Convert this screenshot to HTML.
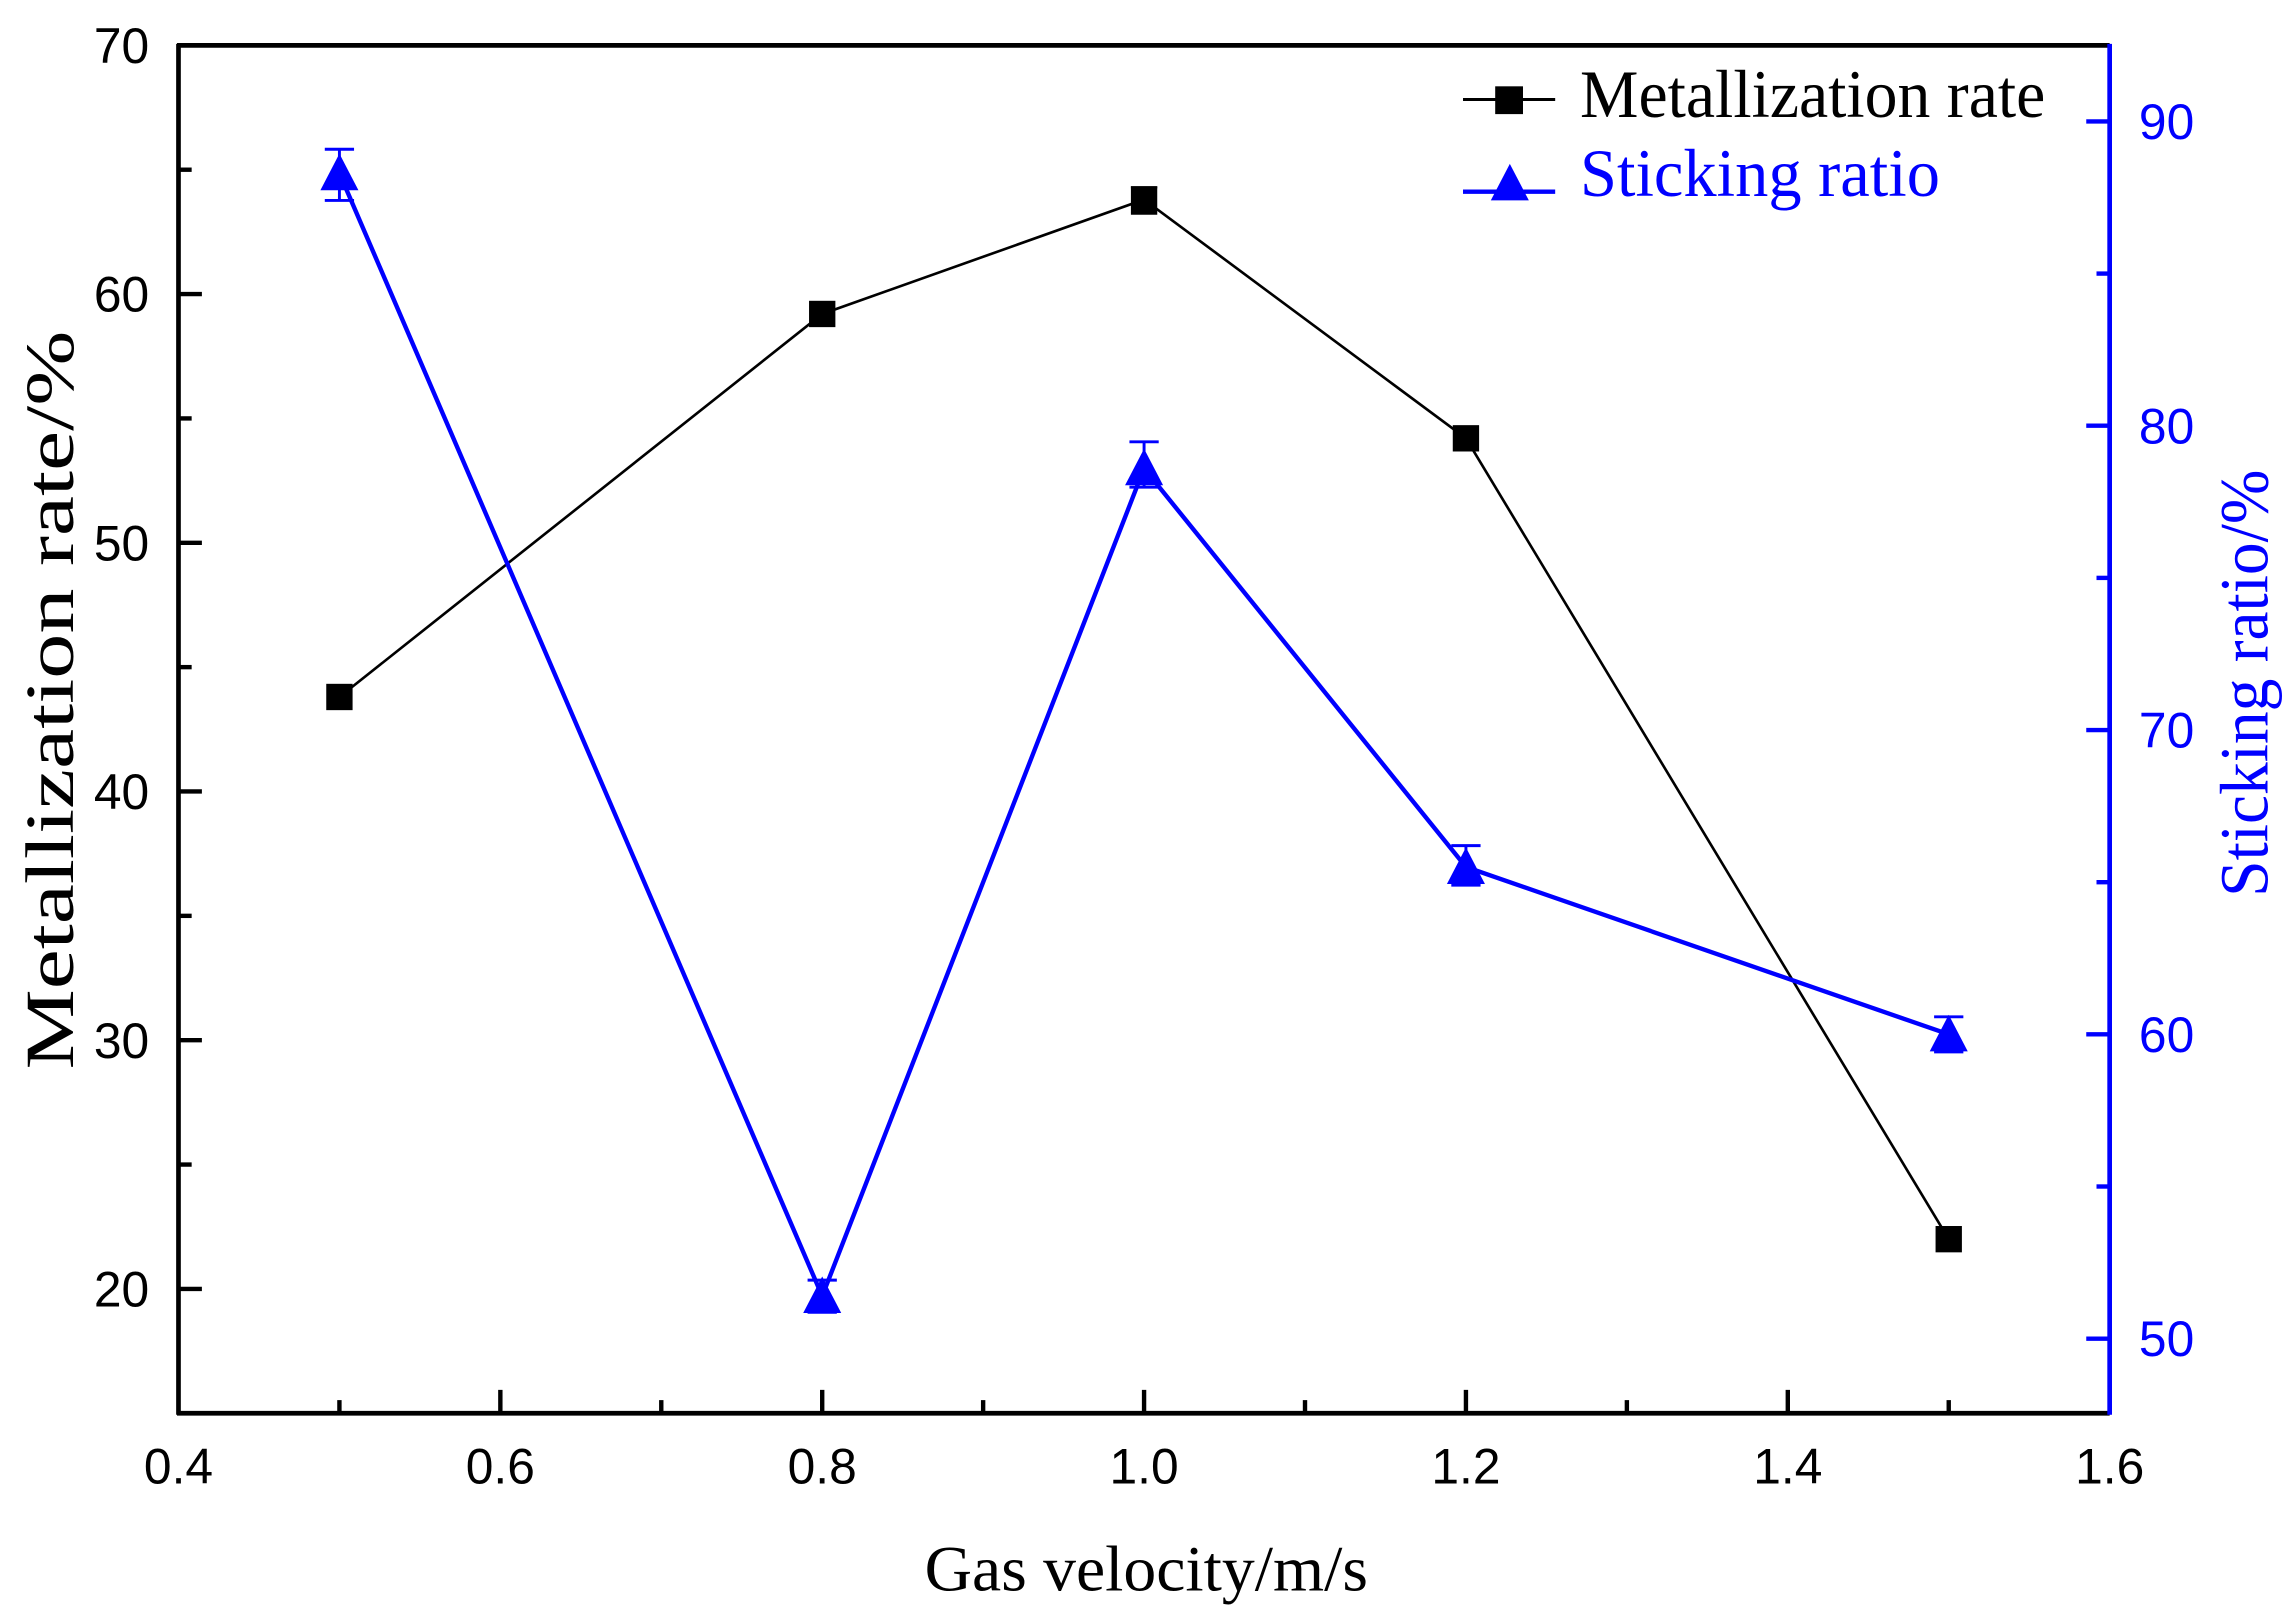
<!DOCTYPE html>
<html><head><meta charset="utf-8"><style>
html,body{margin:0;padding:0;background:#fff;}
svg{display:block;}
.t{font-family:"Liberation Sans",Arial,sans-serif;font-size:34px;}
.s{font-family:"Liberation Serif","Times New Roman",serif;}
</style></head><body>
<svg width="2294" height="1620" viewBox="0 0 1568 1107.3" preserveAspectRatio="none" xmlns="http://www.w3.org/2000/svg">
<rect width="1568" height="1108" fill="#fff"/>
<line x1="121" y1="31" x2="1442" y2="31" stroke="#000" stroke-width="3.2"/>
<line x1="122" y1="30" x2="122" y2="967" stroke="#000" stroke-width="3.2"/>
<line x1="121" y1="966" x2="1442" y2="966" stroke="#000" stroke-width="3.2"/>
<line x1="1442" y1="30" x2="1442" y2="967" stroke="#00f" stroke-width="3.2"/>
<g stroke="#000" stroke-width="3">
<line x1="122" y1="31" x2="138" y2="31"/><line x1="122" y1="116" x2="131" y2="116"/>
<line x1="122" y1="201" x2="138" y2="201"/><line x1="122" y1="286" x2="131" y2="286"/>
<line x1="122" y1="371" x2="138" y2="371"/><line x1="122" y1="456" x2="131" y2="456"/>
<line x1="122" y1="541" x2="138" y2="541"/><line x1="122" y1="626" x2="131" y2="626"/>
<line x1="122" y1="711" x2="138" y2="711"/><line x1="122" y1="796" x2="131" y2="796"/>
<line x1="122" y1="881" x2="138" y2="881"/>
<line x1="232" y1="966" x2="232" y2="957"/><line x1="342" y1="966" x2="342" y2="950"/>
<line x1="452" y1="966" x2="452" y2="957"/><line x1="562" y1="966" x2="562" y2="950"/>
<line x1="672" y1="966" x2="672" y2="957"/><line x1="782" y1="966" x2="782" y2="950"/>
<line x1="892" y1="966" x2="892" y2="957"/><line x1="1002" y1="966" x2="1002" y2="950"/>
<line x1="1112" y1="966" x2="1112" y2="957"/><line x1="1222" y1="966" x2="1222" y2="950"/>
<line x1="1332" y1="966" x2="1332" y2="957"/>
</g>
<g stroke="#00f" stroke-width="3">
<line x1="1442" y1="83" x2="1426" y2="83"/><line x1="1442" y1="187" x2="1433" y2="187"/>
<line x1="1442" y1="291" x2="1426" y2="291"/><line x1="1442" y1="395" x2="1433" y2="395"/>
<line x1="1442" y1="499" x2="1426" y2="499"/><line x1="1442" y1="603" x2="1433" y2="603"/>
<line x1="1442" y1="707" x2="1426" y2="707"/><line x1="1442" y1="811" x2="1433" y2="811"/>
<line x1="1442" y1="915" x2="1426" y2="915"/>
</g>
<g class="t" text-anchor="end" fill="#000">
<text x="102" y="43">70</text><text x="102" y="213">60</text><text x="102" y="383">50</text>
<text x="102" y="553">40</text><text x="102" y="723">30</text><text x="102" y="893">20</text>
</g>
<g class="t" text-anchor="middle" fill="#000">
<text x="122" y="1014">0.4</text><text x="342" y="1014">0.6</text><text x="562" y="1014">0.8</text>
<text x="782" y="1014">1.0</text><text x="1002" y="1014">1.2</text><text x="1222" y="1014">1.4</text>
<text x="1442" y="1014">1.6</text>
</g>
<g class="t" fill="#00f">
<text x="1462" y="95">90</text><text x="1462" y="303">80</text><text x="1462" y="511">70</text>
<text x="1462" y="719">60</text><text x="1462" y="927">50</text>
</g>
<text class="s" x="632" y="1087" font-size="44" textLength="303" lengthAdjust="spacingAndGlyphs">Gas velocity/m/s</text>
<text class="s" font-size="47" textLength="505" lengthAdjust="spacingAndGlyphs" transform="translate(50,731) rotate(-90)">Metallization rate/%</text>
<text class="s" font-size="47" fill="#00f" textLength="292" lengthAdjust="spacingAndGlyphs" transform="translate(1550,613) rotate(-90)">Sticking ratio/%</text>
<polyline points="232,476.4 562,214.6 782,136.4 1002,299.6 1332,847" fill="none" stroke="#000" stroke-width="1.8"/>
<g stroke="#000" stroke-width="1.5">
<line x1="782" y1="128" x2="782" y2="146"/><line x1="773" y1="128" x2="791" y2="128"/><line x1="773" y1="146" x2="791" y2="146"/>
</g>
<g fill="#000">
<rect x="223" y="467.4" width="18" height="18"/><rect x="553" y="205.6" width="18" height="18"/>
<rect x="773" y="127.4" width="18" height="18"/><rect x="993" y="290.6" width="18" height="18"/>
<rect x="1323" y="838" width="18" height="18"/>
</g>
<polyline points="232,118.4 562,885.9 782,320.1 1002,592.6 1332,707" fill="none" stroke="#00f" stroke-width="3"/>
<g stroke="#00f" stroke-width="2">
<line x1="232" y1="102" x2="232" y2="137"/><line x1="222" y1="102" x2="242" y2="102"/><line x1="222" y1="137" x2="242" y2="137"/>
<line x1="562" y1="875" x2="562" y2="897"/><line x1="552" y1="875" x2="572" y2="875"/><line x1="552" y1="897" x2="572" y2="897"/>
<line x1="782" y1="302" x2="782" y2="333"/><line x1="772" y1="302" x2="792" y2="302"/><line x1="772" y1="333" x2="792" y2="333"/>
<line x1="1002" y1="578" x2="1002" y2="605"/><line x1="992" y1="578" x2="1012" y2="578"/><line x1="992" y1="605" x2="1012" y2="605"/>
<line x1="1332" y1="695" x2="1332" y2="719"/><line x1="1322" y1="695" x2="1342" y2="695"/><line x1="1322" y1="719" x2="1342" y2="719"/>
</g>
<g fill="#00f">
<polygon points="232,105 219,130 245,130"/>
<polygon points="562,872.5 549,897.5 575,897.5"/>
<polygon points="782,306.7 769,331.7 795,331.7"/>
<polygon points="1002,579.2 989,604.2 1015,604.2"/>
<polygon points="1332,693.6 1319,718.6 1345,718.6"/>
</g>
<line x1="1000" y1="68" x2="1063" y2="68" stroke="#000" stroke-width="2"/>
<rect x="1022" y="59" width="19" height="19" fill="#000"/>
<text class="s" x="1080" y="80" font-size="46" textLength="318" lengthAdjust="spacingAndGlyphs">Metallization rate</text>
<line x1="1000" y1="131" x2="1063" y2="131" stroke="#00f" stroke-width="3"/>
<polygon points="1032,112 1019,137 1045,137" fill="#00f"/>
<text class="s" x="1080" y="134" font-size="46" fill="#00f" textLength="246" lengthAdjust="spacingAndGlyphs">Sticking ratio</text>
</svg>
</body></html>
